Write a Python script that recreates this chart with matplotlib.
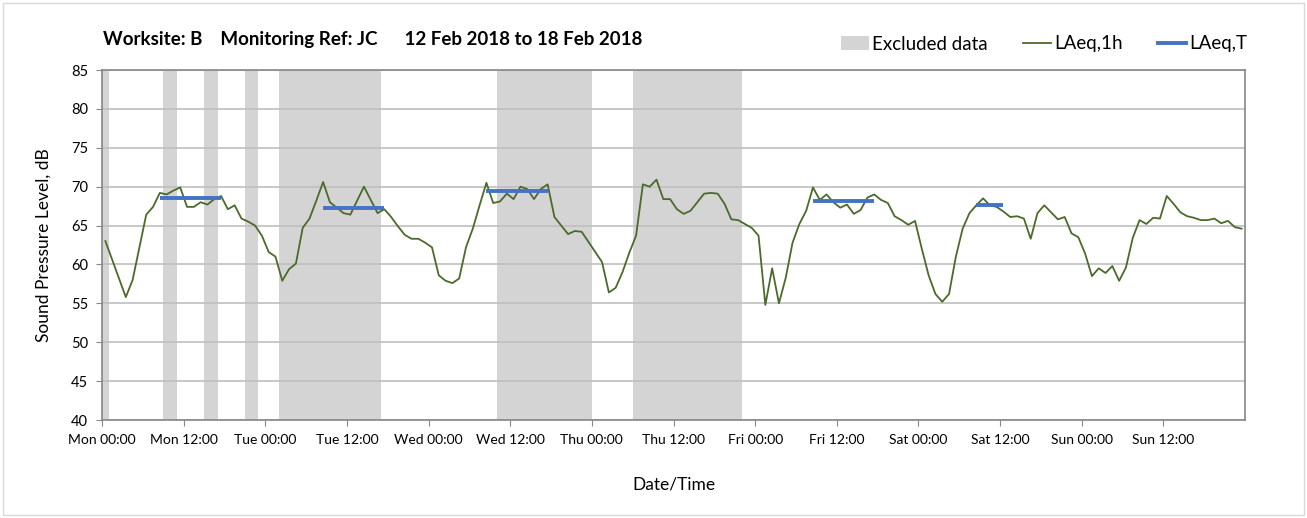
import numpy as np
import matplotlib
matplotlib.use('Agg')
import matplotlib.pyplot as plt
from matplotlib.patches import Patch, Rectangle
from matplotlib.lines import Line2D

plt.rcParams['font.family'] = ['Lato', 'DejaVu Sans']

# hourly LAeq,1h values (dB), Mon 00:00 .. Sun 23:00
laeq_1h = [
    63.0, 60.6, 58.2, 55.8, 58.0, 62.2, 66.4, 67.4, 69.2, 69.0, 69.5, 69.9,
    67.4, 67.4, 68.0, 67.7, 68.4, 68.8, 67.1, 67.6, 65.9, 65.5, 65.0, 63.7,
    61.6, 61.0, 57.9, 59.4, 60.1, 64.7, 65.9, 68.2, 70.6, 68.0, 67.3, 66.6,
    66.4, 68.2, 70.0, 68.3, 66.6, 67.1, 66.1, 64.9, 63.8, 63.3, 63.3, 62.8,
    62.2, 58.6, 57.9, 57.6, 58.2, 62.2, 64.6, 67.6, 70.5, 67.9, 68.1, 69.1,
    68.4, 70.0, 69.7, 68.4, 69.7, 70.3, 66.1, 65.0, 63.9, 64.3, 64.2, 62.9,
    61.6, 60.3, 56.4, 57.0, 59.0, 61.5, 63.7, 70.3, 70.0, 70.9, 68.4, 68.4,
    67.1, 66.5, 66.9, 68.0, 69.1, 69.2, 69.1, 67.8, 65.8, 65.7, 65.2, 64.7,
    63.7, 54.8, 59.5, 55.0, 58.3, 62.8, 65.2, 66.9, 69.9, 68.3, 69.0, 68.0,
    67.3, 67.7, 66.5, 67.0, 68.6, 69.0, 68.3, 67.9, 66.2, 65.7, 65.1, 65.6,
    62.0, 58.6, 56.2, 55.2, 56.2, 61.0, 64.6, 66.6, 67.6, 68.5, 67.6, 67.4,
    66.8, 66.1, 66.2, 65.9, 63.3, 66.6, 67.6, 66.7, 65.8, 66.1, 64.0, 63.5,
    61.4, 58.5, 59.5, 58.9, 59.8, 57.9, 59.6, 63.4, 65.7, 65.2, 66.0, 65.9,
    68.8, 67.8, 66.7, 66.2, 66.0, 65.7, 65.7, 65.9, 65.3, 65.6, 64.8, 64.6,
]

# LAeq,T periods: (first hour, last hour, level)
period_start = [8, 32, 56, 104, 128]
period_end = [17, 41, 65, 113, 132]
period_level = [68.6, 67.3, 69.4, 68.2, 67.7]

# excluded data bands (hours from Mon 00:00)
excl_start = [0, 9, 15, 21, 26, 58, 78]
excl_end = [1, 11, 17, 23, 41, 72, 94]

tick_labels = ['Mon 00:00', 'Mon 12:00', 'Tue 00:00', 'Tue 12:00', 'Wed 00:00', 'Wed 12:00',
               'Thu 00:00', 'Thu 12:00', 'Fri 00:00', 'Fri 12:00', 'Sat 00:00', 'Sat 12:00',
               'Sun 00:00', 'Sun 12:00']

green = '#4a6b2a'
blue = '#4472c4'
shade = '#d4d4d4'

fig = plt.figure(figsize=(13.07, 5.18), dpi=100)
ax = fig.add_axes([102 / 1307, 1 - 420 / 518, (1245 - 102) / 1307, 350 / 518])

hours = np.arange(len(laeq_1h)) + 0.5

#----------------------------------------
# excluded bands
for s, e in zip(excl_start, excl_end):
    ax.axvspan(s, e, color=shade, lw=0, zorder=0)

ax.plot(hours, laeq_1h, color=green, lw=1.3, zorder=3)

for s, e, lv in zip(period_start, period_end, period_level):
    ax.plot([s + 0.5, e + 0.5], [lv, lv], color=blue, lw=2.8, zorder=4, solid_capstyle='butt')

#----------------------------------------
# axes
ax.set_xlim(0, 168)
ax.set_ylim(40, 85)
ax.set_yticks(np.arange(40, 86, 5))
ax.set_xticks(np.arange(0, 168, 12))
ax.set_xticklabels(tick_labels, fontsize=10)
ax.tick_params(axis='y', labelsize=10.5)
ax.set_xticks(np.arange(24, 168, 24), minor=True)
ax.tick_params(which='minor', length=0)
ax.tick_params(which='major', direction='out', length=4, color='#868686', pad=6)

ax.set_axisbelow(True)
ax.grid(axis='y', which='major', color='#bfbfbf', lw=1.2, zorder=0.5)
ax.grid(axis='x', which='minor', color='#d9d9d9', lw=1.2, zorder=0.5)
for sp in ax.spines.values():
    sp.set_color('#868686')
    sp.set_linewidth(1.2)

ax.set_ylabel('Sound Pressure Level, dB', fontsize=12.5, labelpad=14)
ax.set_xlabel('Date/Time', fontsize=12.5, labelpad=22)

fig.text(103 / 1307, 1 - 40 / 518, 'Worksite: B    Monitoring Ref: JC      12 Feb 2018 to 18 Feb 2018',
         fontsize=13.5, fontweight='bold', va='center', ha='left')

handles = [Patch(facecolor=shade, edgecolor='none'),
           Line2D([], [], color=green, lw=1.3),
           Line2D([], [], color=blue, lw=2.8)]
fig.legend(handles, ['Excluded data', 'LAeq,1h', 'LAeq,T'], loc='center right',
           bbox_to_anchor=(1264 / 1307, 1 - 44 / 518), ncol=3, frameon=False,
           fontsize=13.5, handlelength=1.5, handletextpad=0.15, columnspacing=1.9)

fig.patches.append(Rectangle((3 / 1307, 3 / 518), 1 - 6 / 1307, 1 - 6 / 518,
                             transform=fig.transFigure, fill=False, ec='#d9d9d9', lw=1))

fig.savefig('out.png', dpi=100)
